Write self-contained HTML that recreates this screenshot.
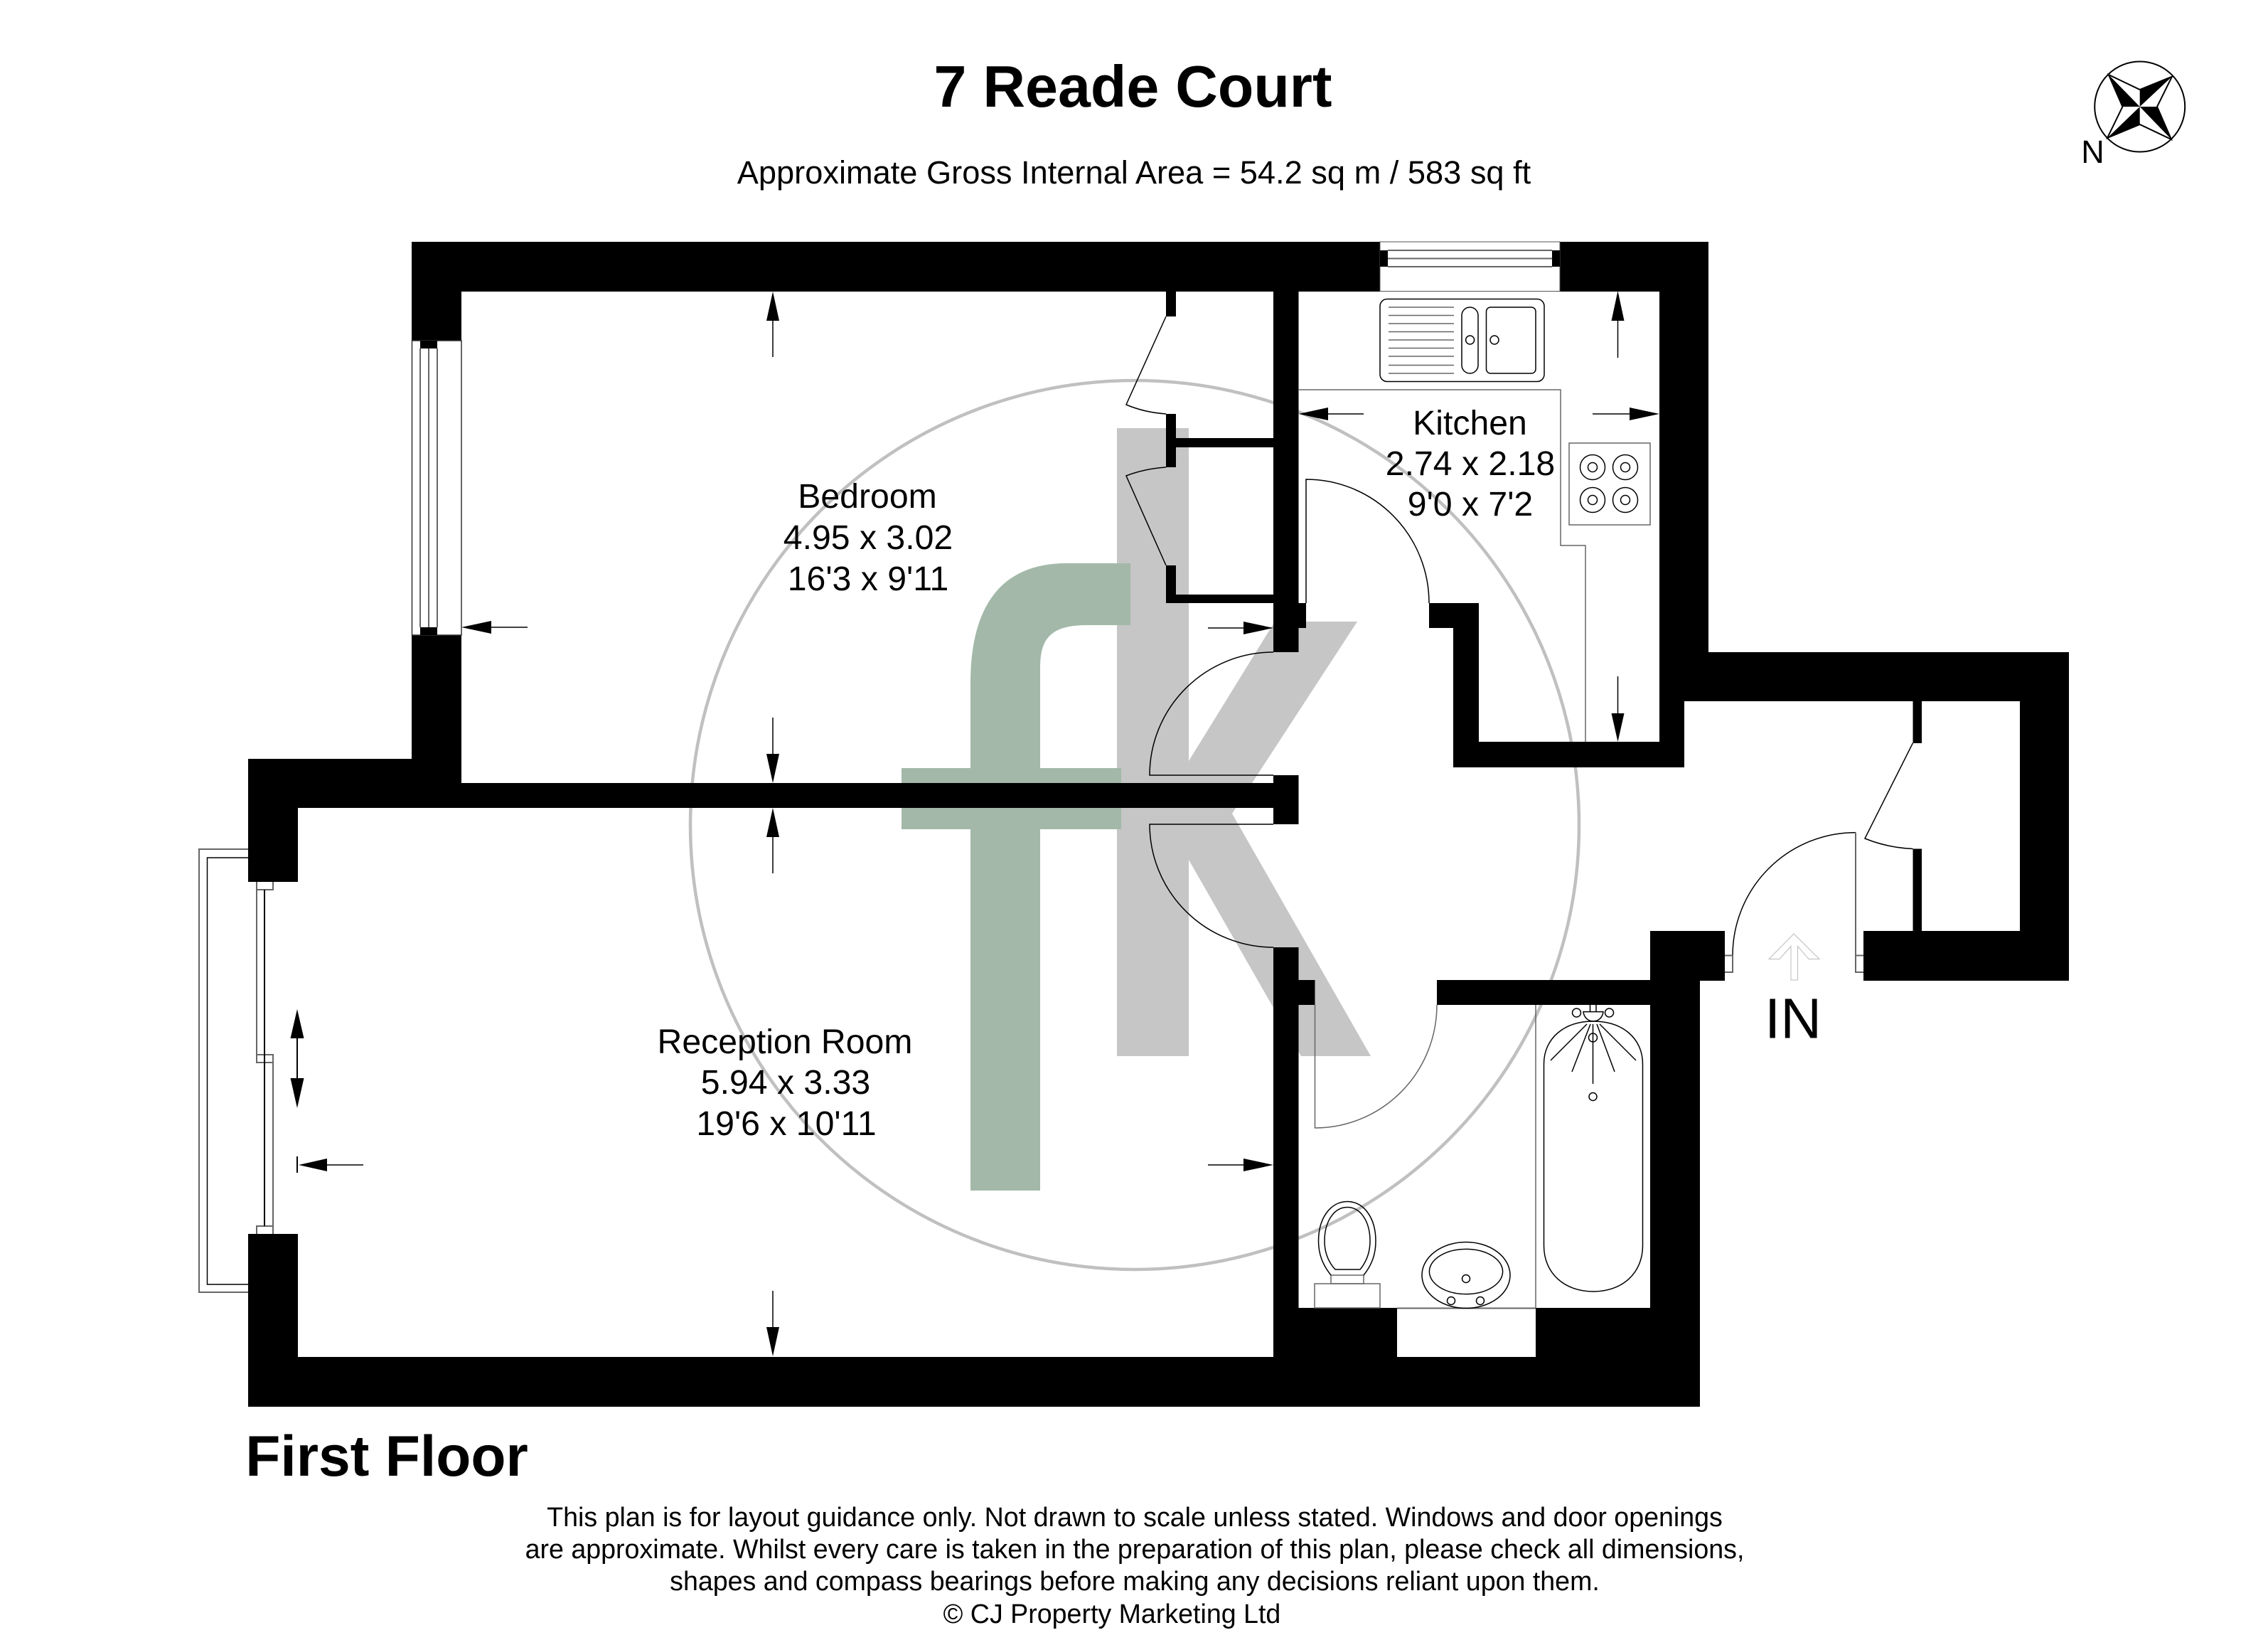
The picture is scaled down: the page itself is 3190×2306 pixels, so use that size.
<!DOCTYPE html>
<html><head><meta charset="utf-8"><style>
html,body{margin:0;padding:0;background:#fff}
svg{display:block}
text{font-family:"Liberation Sans",Arial,sans-serif;fill:#000}
.r{font-size:48.2px;text-anchor:middle}
.d{font-size:37.6px;text-anchor:middle}
.t{fill:none;stroke:#000;stroke-width:1.5}
.g{fill:none;stroke:#666;stroke-width:2}
</style></head><body>
<svg width="3190" height="2306" viewBox="0 0 3190 2306" xmlns="http://www.w3.org/2000/svg">
<rect width="3190" height="2306" fill="#fff"/>
<!-- watermark -->
<circle cx="1596" cy="1160" r="625" fill="none" stroke="#c0c0c0" stroke-width="4.5"/>
<polygon fill="#c6c6c6" points="1571,602 1672,602 1672,1070 1793,874 1909,874 1733,1144 1928,1485 1830,1485 1672,1209 1672,1485 1571,1485"/>
<path fill="#a3b8a9" d="M1365,1674V1166H1268V1080H1365V960C1365,850 1410,792 1500,792H1590V879H1530C1475,879 1463,900 1463,940V1080H1577V1166H1463V1674Z"/>

<!-- walls -->
<g fill="#000">
<rect x="579" y="340" width="1824" height="70"/>
<rect x="579" y="410" width="70" height="691"/>
<rect x="349" y="1067" width="300" height="69"/>
<rect x="349" y="1101" width="1477" height="35"/>
<rect x="349" y="1136" width="70" height="104"/>
<rect x="349" y="1735" width="70" height="243"/>
<rect x="349" y="1908" width="2042" height="70"/>
<rect x="1791" y="410" width="35.5" height="507"/>
<rect x="1640" y="410" width="14" height="35"/>
<rect x="1640" y="582" width="14" height="75"/>
<rect x="1640" y="795" width="14" height="53"/>
<rect x="1654" y="616" width="137" height="13"/>
<rect x="1640" y="836" width="151" height="12"/>
<rect x="1791" y="848" width="46" height="35"/>
<rect x="2010" y="848" width="70" height="35"/>
<rect x="2044" y="883" width="36" height="196"/>
<rect x="2044" y="1043" width="325" height="36"/>
<rect x="2334" y="410" width="69" height="576"/>
<rect x="2334" y="917" width="576" height="69"/>
<rect x="2334" y="986" width="35" height="93"/>
<rect x="2841" y="986" width="69" height="393"/>
<rect x="2621" y="1309" width="289" height="70"/>
<rect x="2690.5" y="986" width="12.5" height="59"/>
<rect x="2690.5" y="1193.5" width="12.5" height="116"/>
<rect x="2321" y="1309" width="105" height="70"/>
<rect x="1791" y="1090" width="35.5" height="69"/>
<rect x="1791" y="1332" width="35.5" height="600"/>
<rect x="1791" y="1378" width="58.5" height="35"/>
<rect x="2021" y="1378" width="370" height="35"/>
<rect x="2321" y="1378" width="70" height="600"/>
<rect x="1791" y="1839" width="174" height="100"/>
<rect x="2160" y="1839" width="231" height="100"/>
</g>

<!-- bedroom window -->
<rect x="579.5" y="479" width="69.5" height="414" fill="#fff" stroke="#333" stroke-width="1.5"/>
<rect x="591" y="479" width="24" height="11"/>
<rect x="591" y="882" width="24" height="11"/>
<path class="g" d="M591,490V882M603,490V882M615,490V882"/>

<!-- kitchen window -->
<rect x="1941" y="340" width="253" height="69.5" fill="#fff" stroke="#555" stroke-width="1"/>
<rect x="1941" y="352" width="11" height="23"/>
<rect x="2183" y="352" width="11" height="23"/>
<path class="g" d="M1952,352H2183M1952,363.5H2183M1952,375H2183"/>

<!-- bathroom window gap -->
<path class="g" d="M1965,1839.5H2160"/>

<!-- balcony / sliding door -->
<path class="g" d="M349,1194H280V1817H349"/>
<path class="t" d="M349,1206H291.5V1806H349"/>
<path class="g" d="M361,1240V1494H384V1483H361M361,1251H384V1240M384,1483V1735M361,1735V1724H384"/>
<path fill="none" stroke="#000" stroke-width="2" d="M372,1251V1724"/>

<!-- doors -->
<path class="t" d="M1640,445L1584,569Q1610,580 1640,582"/>
<path class="t" d="M1640,657Q1610,659 1584,669L1640,795"/>
<path class="t" d="M1837,848V674A173,174 0 0 1 2010,848"/>
<path class="t" d="M1791,917A174,173 0 0 0 1617,1090H1791"/>
<path class="t" d="M1791,1159H1617A174,173 0 0 0 1791,1332"/>
<path class="g" style="stroke-width:1.5" d="M1849.5,1413V1586A171.5,173 0 0 0 2021,1413"/>
<path class="t" d="M2690.5,1044.7L2623,1179Q2655,1192 2690.5,1193.5"/>
<path class="t" d="M2610,1170.6A173,173 0 0 0 2437,1343.5"/>
<path class="g" d="M2610,1170.6V1367H2621M2610,1343.5H2621M2426,1343.5H2437V1367H2426"/>
<polygon fill="#fff" stroke="#bbb" stroke-width="1" points="2523,1313 2488,1348.5 2503,1348.5 2519,1330.5 2519,1378 2528.5,1378 2528.5,1330.5 2544,1348.5 2559,1348.5"/>

<!-- worktop -->
<path class="g" style="stroke-width:1.5" d="M1826,548H2195V767H2230V1043"/>
<!-- sink -->
<rect x="1941" y="420.5" width="231" height="116" rx="10" class="t"/>
<path class="g" style="stroke-width:1.5" d="M1953,432H2045M1953,443.5H2045M1953,455H2045M1953,466.5H2045M1953,478H2045M1953,489.5H2045M1953,501H2045M1953,513.5H2045M1953,525H2045"/>
<rect x="2056" y="432" width="23" height="93" rx="11.5" class="t"/>
<circle cx="2067.6" cy="478" r="6" class="t"/>
<rect x="2090.5" y="432" width="69.5" height="93" rx="6" class="t"/>
<circle cx="2102" cy="478" r="6" class="t"/>
<!-- hob -->
<rect x="2207" y="623" width="114" height="115" class="g" style="stroke-width:1.5"/>
<g class="t" fill="none">
<circle cx="2240" cy="657" r="17.5"/><circle cx="2240" cy="657" r="6.5"/>
<circle cx="2286" cy="657" r="17.5"/><circle cx="2286" cy="657" r="6.5"/>
<circle cx="2240" cy="703" r="17.5"/><circle cx="2240" cy="703" r="6.5"/>
<circle cx="2286" cy="703" r="17.5"/><circle cx="2286" cy="703" r="6.5"/>
</g>

<!-- bath -->
<path class="t" d="M2160,1413V1839" style="stroke:#666"/>
<path class="t" d="M2171.5,1496C2171.5,1460 2200,1436 2241,1436C2282,1436 2310.5,1460 2310.5,1496V1751.5C2310.5,1790 2282,1816 2241,1816C2200,1816 2171.5,1790 2171.5,1751.5Z"/>
<path class="t" d="M2236.5,1413V1422.6M2245,1413V1422.6M2227,1422.6H2255C2254,1431 2248,1436 2241,1436C2234,1436 2228,1431 2227,1422.6Z"/>
<g class="t">
<circle cx="2217.5" cy="1424" r="6"/><circle cx="2263.5" cy="1424" r="6"/>
<circle cx="2240.5" cy="1459" r="6"/><circle cx="2240.5" cy="1542" r="5.5"/>
</g>
<path class="t" d="M2232,1440L2181,1491M2237,1440L2211,1507M2240.5,1440V1524M2246,1440L2271,1507M2250,1440L2301,1491"/>
<!-- toilet -->
<rect x="1849" y="1805" width="92" height="34" class="g" style="stroke-width:1.5"/>
<rect x="1872" y="1793" width="46" height="12" class="g" style="stroke-width:1.5"/>
<path class="t" d="M1872,1793C1860,1778 1854.5,1763 1854.5,1745C1854.5,1712 1872,1689.5 1895,1689.5C1918,1689.5 1935,1712 1935,1745C1935,1763 1930,1778 1918,1793"/>
<path class="t" d="M1878,1785C1868,1774 1863,1760 1863,1745C1863,1718 1876,1697.5 1895,1697.5C1914,1697.5 1927,1718 1927,1745C1927,1760 1922,1774 1913,1785Z"/>
<!-- basin -->
<ellipse cx="2062" cy="1793" rx="62" ry="46.5" class="t"/>
<ellipse cx="2062" cy="1788" rx="51.6" ry="31.6" class="t"/>
<circle cx="2062" cy="1798" r="5.5" class="t"/>
<circle cx="2041" cy="1829" r="5.5" class="t"/>
<circle cx="2082" cy="1829" r="5.5" class="t"/>

<!-- dimension arrows -->
<g fill="#000">
<polygon points="1087,410 1078,451 1096,451"/>
<polygon points="1087,1101 1078,1060 1096,1060"/>
<polygon points="1087,1136 1078,1177 1096,1177"/>
<polygon points="1087,1907 1078,1866 1096,1866"/>
<polygon points="649,882 691,873 691,891"/>
<polygon points="1791,883 1749,874 1749,892"/>
<polygon points="1826.5,582 1868,573 1868,591"/>
<polygon points="2334,582 2292,573 2292,591"/>
<polygon points="2275.5,409 2266.5,451 2284.5,451"/>
<polygon points="2275.5,1043 2266.5,1003 2284.5,1003"/>
<polygon points="1791,1638 1749,1629 1749,1647"/>
<polygon points="420,1638 460,1629 460,1647"/>
<polygon points="418,1419 408.5,1460 427.5,1460"/>
<polygon points="418,1558 408.5,1516 427.5,1516"/>
</g>
<path class="t" d="M1087,451V502M1087,1060V1009M1087,1177V1228M1087,1866V1815M691,882H742M1749,883H1699M1868,582H1918M2292,582H2240M2275.5,451V503M2275.5,1003V951M1749,1638H1699M460,1638H511"/>
<path fill="none" stroke="#000" stroke-width="2" d="M418,1460V1516M418,1626V1649"/>

<!-- compass -->
<circle cx="3009.7" cy="150" r="63.5" fill="#fff" stroke="#000" stroke-width="2"/>
<path fill="none" stroke="#000" stroke-width="2" d="M2965.8,105L3009.7,126L3055,107.7L3034,150L3054,196L3009.7,175L2964,194L2985.4,150Z"/>
<polygon fill="#000" points="2965.8,105 3009.7,150 2985.4,150"/>
<polygon fill="#000" points="3055,107.7 3009.7,150 3009.7,126"/>
<polygon fill="#000" points="3054,196 3009.7,150 3034,150"/>
<polygon fill="#000" points="2964,194 3009.7,150 3009.7,175"/>
<text x="2943.5" y="229" font-size="45" text-anchor="middle">N</text>

<!-- text -->
<text x="1593.5" y="150" font-size="82.6" font-weight="700" text-anchor="middle">7 Reade Court</text>
<text x="1595" y="258" font-size="45.2" text-anchor="middle">Approximate Gross Internal Area = 54.2 sq m / 583 sq ft</text>
<text class="r" x="1220" y="714">Bedroom</text>
<text class="r" x="1221" y="772">4.95 x 3.02</text>
<text class="r" x="1221" y="830">16'3 x 9'11</text>
<text class="r" x="2067.5" y="611">Kitchen</text>
<text class="r" x="2068" y="668">2.74 x 2.18</text>
<text class="r" x="2068" y="725">9'0 x 7'2</text>
<text class="r" x="1104" y="1481">Reception Room</text>
<text class="r" x="1105" y="1538">5.94 x 3.33</text>
<text class="r" x="1106" y="1596">19'6 x 10'11</text>
<text x="2522" y="1459.5" font-size="80" text-anchor="middle">IN</text>
<text x="544" y="2075" font-size="80.4" font-weight="700" text-anchor="middle">First Floor</text>
<text class="d" x="1596" y="2146">This plan is for layout guidance only. Not drawn to scale unless stated. Windows and door openings</text>
<text class="d" x="1596" y="2191">are approximate. Whilst every care is taken in the preparation of this plan, please check all dimensions,</text>
<text class="d" x="1596" y="2236">shapes and compass bearings before making any decisions reliant upon them.</text>
<text class="d" x="1564" y="2282">© CJ Property Marketing Ltd</text>
</svg>
</body></html>
